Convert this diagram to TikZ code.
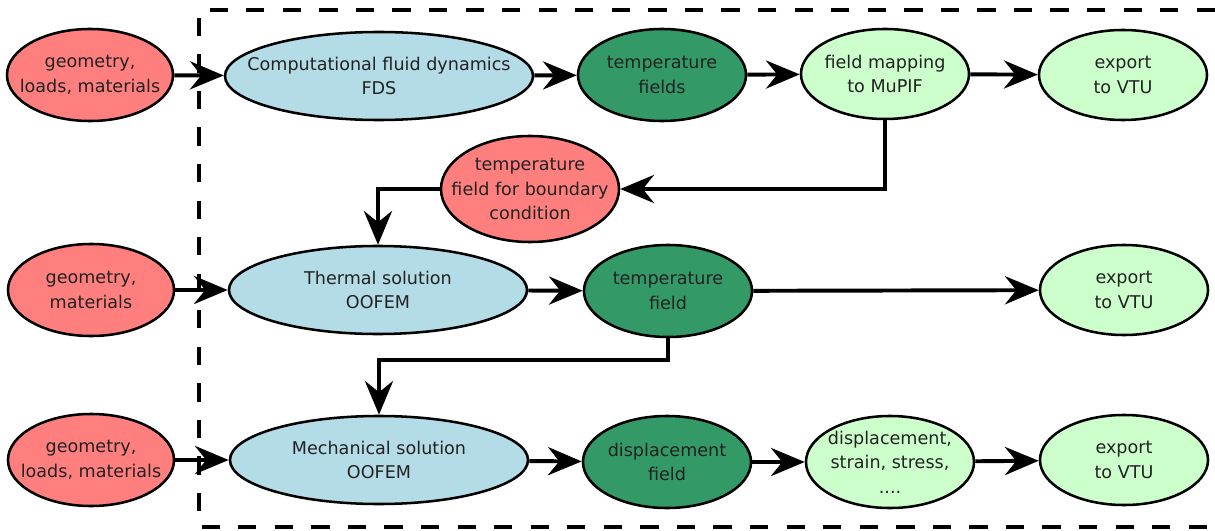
\documentclass[tikz,border=0pt]{standalone}
\usepackage{fontspec}
\setmainfont{DejaVu Sans}
\usetikzlibrary{shapes.geometric, arrows.meta}
\definecolor{inred}{HTML}{FF7F7F}
\definecolor{solblue}{HTML}{B4DCE6}
\definecolor{fieldgreen}{HTML}{339966}
\definecolor{outgreen}{HTML}{CCFFCC}
\definecolor{txtgray}{HTML}{222222}
\tikzstyle{blob} = [ellipse, draw=black, line width=1.8pt, inner sep=-1cm, align=center, text=txtgray, font=\fontsize{12.5}{17.5}\selectfont]
\tikzstyle{input} = [blob, fill=inred, minimum width=4.15cm, minimum height=2.3cm]
\tikzstyle{solver} = [blob, fill=solblue, minimum width=7.45cm, minimum height=2.2cm]
\tikzstyle{field} = [blob, fill=fieldgreen, minimum width=4.2cm, minimum height=2.3cm]
\tikzstyle{output} = [blob, fill=outgreen, minimum width=4.2cm, minimum height=2.25cm]
\tikzstyle{arrow} = [line width=2.8pt, -{Stealth[length=24pt, width=20pt, inset=8pt]}]

\begin{document}
\begin{tikzpicture}[x=0.025cm, y=-0.025cm]
\useasboundingbox (0,0) rectangle (1215,531);

% dashed frame round the coupled codes
\draw [line width=2.2pt, dash pattern=on 13pt off 13pt] (1215,10) -- (199,10) -- (199,527) -- (1215,527);

% first row
\node (geo1) [input] at (90,75) {geometry,\\loads, materials};
\node (cfd) [solver, minimum width=7.7cm] at (379,76) {Computational fluid dynamics\\FDS};
\node (tf1) [field] at (662,75) {temperature\\fields};
\node (map) [output] at (885,74) {field mapping\\to MuPIF};
\node (exp1) [output] at (1123,75) {export\\to VTU};

\node (tbc) [input, minimum width=4.45cm, minimum height=2.65cm] at (530,189) {temperature\\field for boundary\\condition};

% second row
\node (geo2) [input] at (91,290) {geometry,\\materials};
\node (thermal) [solver] at (378,290) {Thermal solution\\OOFEM};
\node (tf2) [field] at (668,291) {temperature\\field};
\node (exp2) [output] at (1124,290) {export\\to VTU};

% third row
\node (geo3) [input] at (91,460) {geometry,\\loads, materials};
\node (mech) [solver] at (379,460) {Mechanical solution\\OOFEM};
\node (disp) [field] at (667,462) {displacement\\field};
\node (dss) [output, minimum height=2.3cm] at (890,462) {displacement,\\strain, stress,\\....};
\node (exp3) [output] at (1124,460) {export\\to VTU};

\draw [arrow] (geo1) -- (cfd);
\draw [arrow] (cfd) -- (tf1);
\draw [arrow] (tf1) -- (map);
\draw [arrow] (map) -- (exp1);
\draw [arrow] (map.south) |- (tbc.east);
\draw [arrow] (tbc.west) -| (thermal.north);

\draw [arrow] (geo2) -- (thermal);
\draw [arrow] (thermal) -- (tf2);
\draw [arrow] (tf2) -- (exp2);
\draw [arrow] (tf2.south) -- ++(0,22) -| (mech.north);

\draw [arrow] (geo3) -- (mech);
\draw [arrow] (mech) -- (disp);
\draw [arrow] (disp) -- (dss);
\draw [arrow] (dss) -- (exp3);

\end{tikzpicture}
\end{document}
